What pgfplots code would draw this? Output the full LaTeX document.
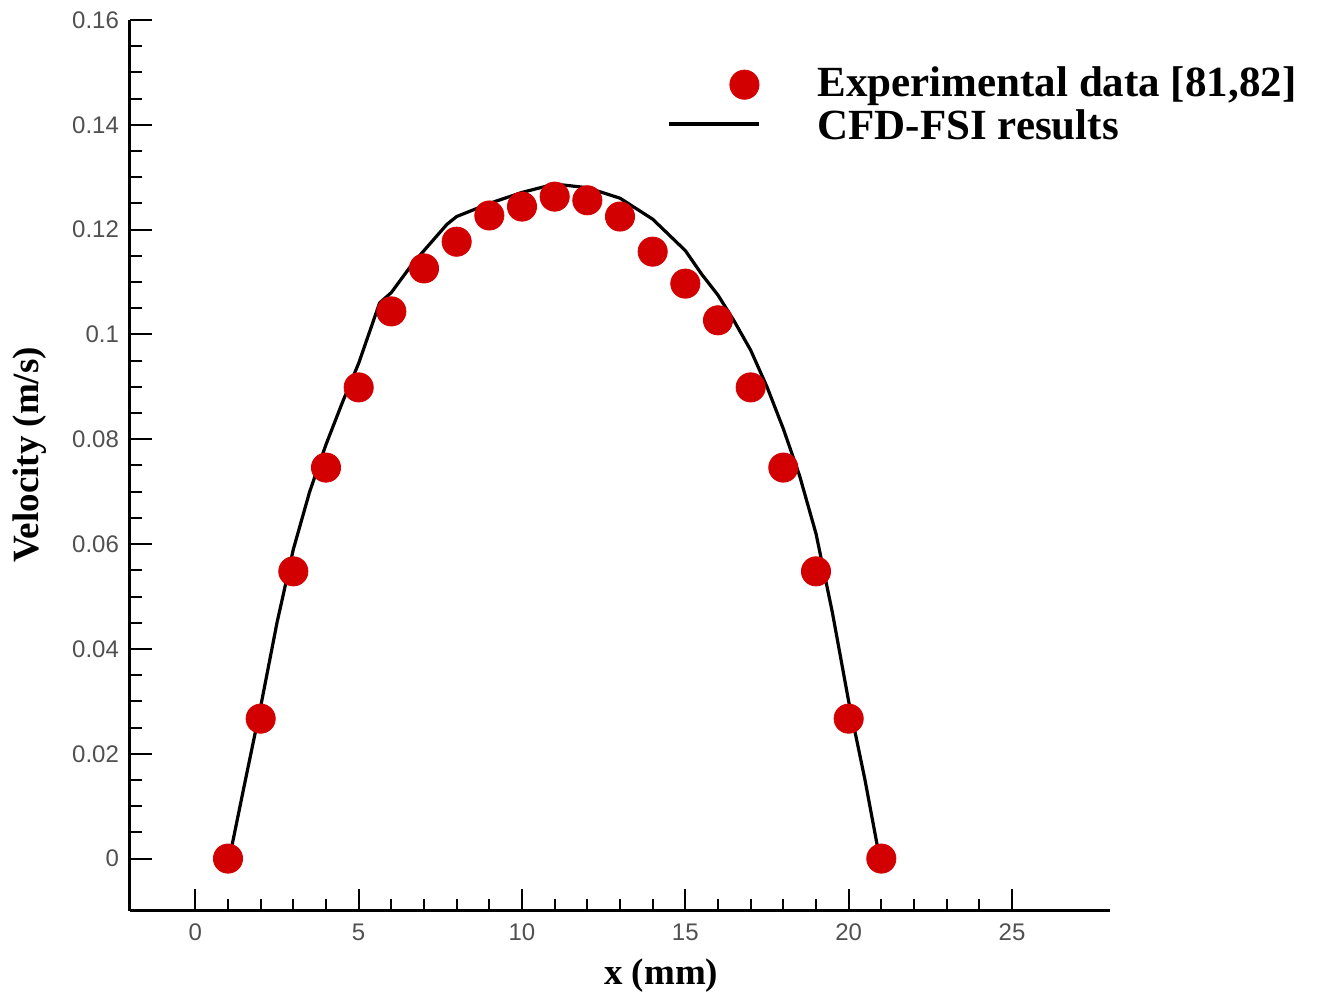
\documentclass[border=0pt]{standalone}
\usepackage{fontspec}
\setmainfont{Liberation Serif}
\newfontfamily\tickfont{Liberation Sans}
\usepackage{pgfplots}
\pgfplotsset{compat=1.18}
\definecolor{ptred}{RGB}{210,0,0}
\definecolor{tickgray}{RGB}{80,80,80}
\begin{document}
\begin{tikzpicture}
\begin{axis}[
  at={(0,0)}, anchor=south west,
  scale only axis, width=490pt, height=445.5pt,
  xmin=-2, xmax=28, ymin=-0.01, ymax=0.16,
  axis lines=left,
  axis line style={-, line width=1.5pt, black},
  xtick={0,5,...,25}, minor x tick num=4,
  ytick={0,0.02,...,0.161}, minor y tick num=3,
  tick align=inside,
  major tick length=11pt, minor tick length=6pt,
  every tick/.style={black, line width=1pt},
  scaled y ticks=false,
  yticklabel style={/pgf/number format/fixed, /pgf/number format/precision=2},
  /pgf/number format/assume math mode=true,
  ticklabel style={font=\tickfont\fontsize{12}{14}\selectfont, text=tickgray},
  xticklabel style={yshift=-3pt},
  yticklabel style={xshift=-2pt},
  every axis y label/.style={at={(axis description cs:-0.102,0.512)}, rotate=90, anchor=center},
  every axis x label/.style={at={(axis description cs:0.542,-0.072)}, anchor=center},
  label style={font=\bfseries\fontsize{18.5}{22}\selectfont},
  xlabel={x (mm)},
  ylabel={Velocity (m/s)},
  legend style={at={(axis description cs:0.548,0.953)}, anchor=north west, draw=none, fill=none,
    font=\bfseries\fontsize{21.5}{24}\selectfont, inner xsep=0pt, inner ysep=0pt,
    nodes={inner sep=2pt}, row sep=1.5pt},
  legend cell align=left,
]
\addplot[only marks, mark=*, mark size=7.3pt, mark options={fill=ptred, draw=ptred}, color=ptred,
  legend image code/.code={\path[draw=none,fill=none] (0pt,0pt) -- (72pt,0pt); \path[draw=none] plot[mark=*, mark size=7.3pt, mark options={fill=ptred, draw=ptred}] coordinates {(37.5pt,-1pt)};}]
coordinates {
(1,0) (2,0.0267) (3,0.0548) (4,0.0746) (5,0.0899) (6,0.1044) (7,0.1126)
(8,0.1177) (9,0.1227) (10,0.1244) (11,0.1263) (12,0.1256) (13,0.1225)
(14,0.1158) (15,0.1097) (16,0.1027) (17,0.0899) (18,0.0746) (19,0.0548)
(20,0.0267) (21,0)
};
\addlegendentry{Experimental data [81,82]}
\addplot[black, line width=1.6pt, no marks,
  legend image code/.code={\path[draw=none,fill=none] (0pt,0pt) -- (72pt,0pt); \draw[line width=2pt] (0pt,1.5pt) -- (45pt,1.5pt);}]
coordinates {
(1.04,0) (1.5,0.014) (2,0.029) (2.5,0.045) (3,0.059) (3.5,0.070) (4,0.079)
(4.5,0.087) (5,0.0945) (5.64,0.106) (6,0.108) (6.65,0.1135) (7.7,0.121)
(8,0.1225) (9,0.125) (10,0.1271) (11,0.1287) (12,0.128) (13,0.126)
(14,0.122) (15,0.116) (15.5,0.1115) (16,0.1075) (16.5,0.1025) (17,0.097)
(17.5,0.090) (18,0.082) (18.5,0.073) (19,0.062) (19.5,0.047) (20,0.030)
(20.5,0.015) (20.95,0)
};
\addlegendentry{CFD-FSI results}
\end{axis}
\pgfresetboundingbox
\path (-65pt,-41.5pt) rectangle (593.5pt,455.5pt);
\end{tikzpicture}
\end{document}
